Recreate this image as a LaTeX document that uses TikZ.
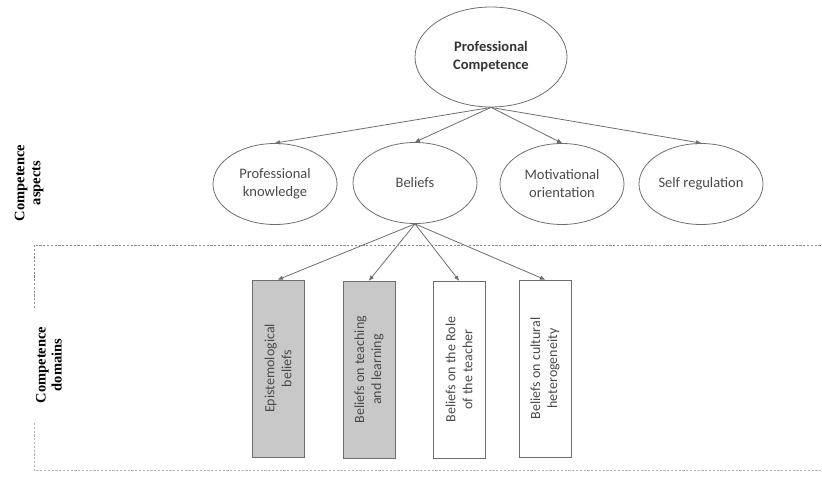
\documentclass[tikz,border=0pt]{standalone}
\usepackage{fontspec}
\setmainfont{Carlito}
\newfontfamily\labelfont{Liberation Serif}
\usetikzlibrary{shapes.geometric,arrows.meta}
\definecolor{linegray}{HTML}{6E6E6E}
\definecolor{textgray}{HTML}{4A4A4A}
\definecolor{boxfill}{HTML}{C8C8C8}
\definecolor{dashgray}{HTML}{8A8A8A}
\definecolor{dashlight}{HTML}{B4B4B4}
\tikzset{
  oval/.style={ellipse, draw=linegray, line width=0.8pt, inner sep=0pt, align=center,
    text=textgray, font=\fontsize{14.5}{18}\selectfont},
  topoval/.style={oval, minimum width=152pt, minimum height=100pt,
    text=black!80, font=\bfseries\fontsize{14.5}{18}\selectfont},
  rowoval/.style={oval, minimum width=124pt, minimum height=81pt},
  domainbox/.style={rectangle, draw=linegray, line width=0.8pt, minimum width=52pt,
    minimum height=177pt, inner sep=0pt},
  greybox/.style={domainbox, fill=boxfill},
  boxtext/.style={rotate=90, align=center, text=textgray, inner sep=0pt,
    font=\fontsize{14}{17}\selectfont},
  conn/.style={draw=linegray, line width=0.8pt, -{Triangle[length=5pt,width=4pt]}},
  sidelabel/.style={rotate=90, align=center, inner sep=0pt,
    font=\labelfont\bfseries\fontsize{14.5}{16}\selectfont},
  sep/.style={draw=dashgray, line width=0.8pt, dash pattern=on 2.2pt off 1.6pt},
  seplight/.style={draw=dashlight, line width=0.7pt, dash pattern=on 2.2pt off 1.6pt}
}
\begin{document}
\begin{tikzpicture}[x=1pt,y=-1pt]
\useasboundingbox (0,0) rectangle (822,477);

% top
\node[topoval] (pc) at (491,57) {Professional\\Competence};

% aspects
\node[rowoval] (pk) at (275,184) {Professional\\knowledge};
\node[rowoval] (bel) at (415,183) {Beliefs};
\node[rowoval] (mo) at (562,184) {Motivational\\orientation};
\node[rowoval] (sr) at (701,184) {Self regulation};

\draw[conn] (pc.south) -- (pk.north);
\draw[conn] (pc.south) -- (bel.north);
\draw[conn] (pc.south) -- (mo.north);
\draw[conn] (pc.south) -- (sr.north);

% domains
\node[greybox] (d1) at (278,368.5) {};
\node[greybox] (d2) at (369,369.5) {};
\node[domainbox] (d3) at (459,369.5) {};
\node[domainbox] (d4) at (545,368.5) {};
\node[boxtext] (t1) at (d1.center) {Epistemological\\beliefs};
\node[boxtext] (t2) at (d2.center) {Beliefs on teaching\\and learning};
\node[boxtext] (t3) at (d3.center) {Beliefs on the Role\\of the teacher};
\node[boxtext] (t4) at (d4.center) {Beliefs on cultural\\heterogeneity};

\draw[conn] (bel.south) -- (d1.north);
\draw[conn] (bel.south) -- (d2.north);
\draw[conn] (bel.south) -- (d3.north);
\draw[conn] (bel.south) -- (d4.north);

% side labels
\node[sidelabel] (la) at (29,183) {Competence\\aspects};
\node[sidelabel] (ld) at (49,365) {Competence\\domains};

% separators
\coordinate (s1) at (34,308);
\coordinate (s2) at (34,245);
\coordinate (s3) at (822,245);
\coordinate (s4) at (34,423);
\coordinate (s5) at (34,470);
\coordinate (s6) at (822,470);
\draw[sep] (s1) -- (s2) -- (s3);
\draw[seplight] (s4) -- (s5) -- (s6);
\end{tikzpicture}
\end{document}
